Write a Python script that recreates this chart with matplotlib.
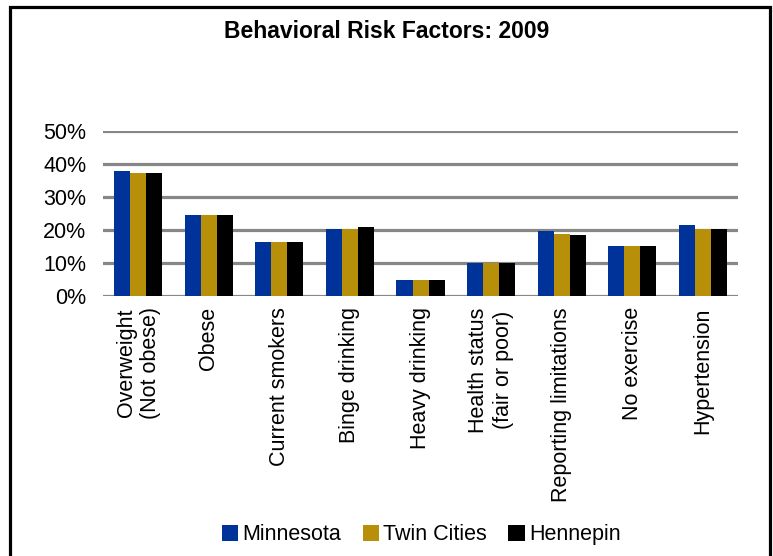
import matplotlib.pyplot as plt
import numpy as np
from matplotlib.patches import Rectangle
from matplotlib.ticker import PercentFormatter

plt.rcParams['font.family'] = ['Liberation Sans', 'DejaVu Sans']

categories = ['Overweight\n(Not obese)', 'Obese', 'Current smokers', 'Binge drinking',
              'Heavy drinking', 'Health status\n(fair or poor)', 'Reporting limitations',
              'No exercise', 'Hypertension']
minnesota = [0.378, 0.245, 0.165, 0.202, 0.050, 0.099, 0.196, 0.153, 0.214]
twin_cities = [0.373, 0.245, 0.165, 0.202, 0.050, 0.099, 0.189, 0.153, 0.202]
hennepin = [0.373, 0.245, 0.165, 0.208, 0.050, 0.099, 0.184, 0.153, 0.202]
series = {'Minnesota': minnesota, 'Twin Cities': twin_cities, 'Hennepin': hennepin}
colors = ['#003399', '#B88F08', '#000000']

fig = plt.figure(figsize=(7.73, 5.56), dpi=100)
ax = fig.add_axes([0.1333, 0.4676, 0.8214, 0.2968])

x = np.arange(len(categories))
width = 0.227
for i, ((name, vals), c) in enumerate(zip(series.items(), colors)):
    ax.bar(x + (i - 1) * width, vals, width=width, color=c, label=name, zorder=3)

ax.set_xlim(-0.5, len(categories) - 0.5)
ax.set_ylim(0, 0.5)
ax.set_yticks(np.arange(0, 0.51, 0.1))
ax.yaxis.set_major_formatter(PercentFormatter(1.0, decimals=0))
ax.grid(axis='y', color='#878787', linewidth=2.3, zorder=0)
ax.set_xticks(x, categories, rotation=90, ha='center', va='top')
ax.tick_params(axis='y', length=0, pad=12, labelsize=15.5)
ax.tick_params(axis='x', length=0, pad=8, labelsize=15.5)
for s in ax.spines.values():
    s.set_visible(False)

fig.text(0.5, 0.943, 'Behavioral Risk Factors: 2009', ha='center', va='center',
         fontsize=16.5, fontweight='bold')

fig.legend(loc='center', bbox_to_anchor=(0.545, 0.038), ncols=3, frameon=False,
           fontsize=15.5, handlelength=0.75, handleheight=0.75, handletextpad=0.2,
           columnspacing=1.0)

fig.patches.append(Rectangle((10 / 773, -0.05), 760 / 773, 1 - 7 / 556 + 0.05,
                             transform=fig.transFigure, fill=False,
                             edgecolor='black', linewidth=2.3))

fig.savefig('out.png', dpi=100)
